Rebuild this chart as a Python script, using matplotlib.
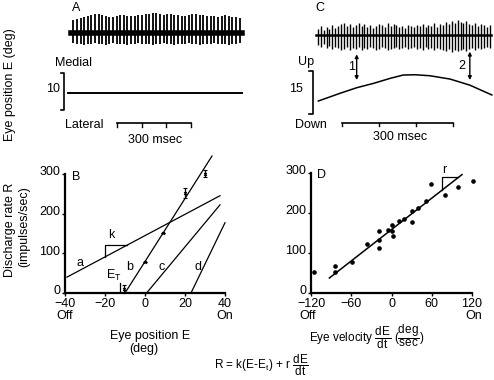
import matplotlib
matplotlib.use("Agg")
import matplotlib.pyplot as plt
import matplotlib.transforms as mtransforms

plt.rcParams["font.family"] = ["Liberation Sans", "DejaVu Sans"]
plt.rcParams["mathtext.fontset"] = "custom"
plt.rcParams["mathtext.rm"] = "Liberation Sans"
plt.rcParams["mathtext.it"] = "Liberation Sans"
plt.rcParams["axes.unicode_minus"] = True

FS = 9

# ---------------- data ----------------
# A: spike train at a fixed lateral position (times in ms, amplitudes in trace units)
a_spike_t = [20, 35, 50, 64, 79, 94, 109, 124, 138, 153, 168, 183, 198, 212, 227, 242,
             257, 272, 286, 301, 316, 331, 346, 360, 375, 390, 405, 420, 434, 449, 464,
             479, 494, 508, 523, 538, 553, 568, 582, 597, 612, 627, 642, 656, 671, 686, 701]
a_spike_up = [13, 14, 15, 16, 17, 18, 19, 19, 18, 17, 16, 16, 17, 18, 18, 17, 17, 17, 18,
              18, 19, 19, 20, 20, 19, 18, 19, 19, 18, 18, 17, 17, 18, 19, 19, 18, 18, 17,
              17, 17, 16, 17, 18, 17, 16, 16, 15]
a_spike_down = [10, 11, 11, 12, 11, 11, 10, 11, 11, 12, 11, 10, 11, 11, 11, 12, 11, 11, 10,
                11, 11, 11, 12, 11, 11, 10, 11, 11, 12, 11, 11, 11, 10, 11, 11, 12, 11, 11,
                11, 10, 11, 11, 11, 12, 11, 11, 10]
a_eye_t = [0, 709]
a_eye_deg = [0, 0]

# C: spike train during a slow up-down eye movement
c_spike_t = [-2, 6, 14, 22, 29, 37, 45, 53, 61, 69, 77, 84, 92, 100, 108, 116, 124, 131,
             139, 147, 155, 163, 171, 179, 186, 194, 202, 210, 218, 226, 233, 241, 249,
             257, 265, 273, 281, 288, 296, 304, 312, 320, 328, 335, 343, 351, 359, 367,
             375, 382, 390, 398, 406, 414, 422, 430, 437, 445, 453, 461]
c_spike_up = [6, 9, 5, 8, 6, 10, 7, 9, 11, 12, 9, 11, 8, 10, 12, 9, 11, 8, 10, 7, 9, 11,
              10, 8, 12, 9, 11, 10, 8, 9, 7, 10, 9, 8, 10, 9, 11, 8, 10, 9, 12, 8, 11, 10,
              13, 11, 14, 12, 15, 13, 12, 14, 11, 10, 12, 9, 11, 10, 8, 10]
c_spike_down = [10, 12, 9, 13, 11, 14, 12, 13, 15, 14, 12, 15, 13, 14, 12, 15, 13, 14, 12,
                13, 15, 14, 12, 13, 15, 14, 13, 12, 14, 13, 12, 14, 13, 12, 14, 13, 15, 12,
                14, 13, 15, 13, 14, 15, 16, 14, 17, 15, 16, 15, 14, 16, 14, 13, 15, 13, 14,
                13, 12, 13]
c_eye_t = [0, 58, 103, 148, 193, 228, 260, 300, 354, 407, 466]
c_eye_deg = [0, 2.66, 4.6, 6.1, 7.85, 9.0, 9.1, 8.75, 7.6, 5.5, 2.1]
c_arrow_t = [103, 407]

# B: rate vs position lines
line_names = ["a", "b", "c", "d"]
line_e = [[-39, 37.5], [-10, 33.5], [0.8, 37.5], [23, 40]]
line_r = [[40, 245], [0, 345], [0, 222], [0, 177]]
b_pts_e = [-10.5, 0, 9, 20, 30]
b_pts_r = [10, 77, 150, 251, 300]
b_pts_err = [10, 0, 0, 13, 9]
b_ticks_x = [-40, -20, 0, 20, 40]
b_ticks_y = [0, 100, 200, 300]

# D: rate vs velocity
d_vel = [-115, -84, -84, -59, -36, -19, -19, -19, -4.5, 0.5, 0.5, 1.5, 10.5, 19, 30, 30,
         40, 51, 59, 80, 99, 121]
d_rate = [52, 67, 52, 77, 122, 154, 133, 112, 158, 171, 156, 143, 179, 185, 204, 177,
          212, 229, 273, 246, 264, 281]
d_fit_v = [-92.6, 105]
d_fit_r = [37.5, 296]
d_ticks_x = [-120, -60, 0, 60, 120]
d_ticks_y = [0, 100, 200, 300]

# ---------------- figure ----------------
W, H = 494, 380
fig = plt.figure(figsize=(W / 100, H / 100), dpi=100)


def px_axes(x0, y0, x1, y1):
    return fig.add_axes([x0 / W, 1 - y1 / H, (x1 - x0) / W, (y1 - y0) / H])


def px_text(x, y, s, **kw):
    kw.setdefault("fontsize", FS)
    kw.setdefault("ha", "center")
    kw.setdefault("va", "center")
    fig.text(x / W, 1 - y / H, s, **kw)


def spikes(ax, t, up, down, lw):
    for ti, u, d in zip(t, up, down):
        ax.plot([ti, ti], [-d, u], color="black", lw=lw, solid_capstyle="butt")


def rate_axes(ax, xt, yt):
    for side in ["top", "right"]:
        ax.spines[side].set_visible(False)
    ax.spines["left"].set_bounds(yt[0], yt[-1])
    ax.spines["bottom"].set_bounds(xt[0], xt[-1])
    ax.spines["left"].set_linewidth(1.6)
    ax.spines["bottom"].set_linewidth(1.6)
    ax.set_xticks(xt)
    ax.set_yticks(yt)
    ax.tick_params(length=2, width=1, pad=1.5, labelsize=FS)
    ax.patch.set_visible(False)
    # labels on the y axis sit a little above their ticks
    off = mtransforms.ScaledTranslation(0, 3 / 100, fig.dpi_scale_trans)
    for lbl in ax.get_yticklabels():
        lbl.set_transform(lbl.get_transform() + off)


# ----- panel A -----
ax = px_axes(60, 12, 246, 48)
ax.set_xlim(-34, 727)
ax.set_ylim(-15, 21)
ax.axis("off")
ax.plot([a_spike_t[0] - 8, a_spike_t[-1] + 10], [0, 0], color="black", lw=4)
spikes(ax, a_spike_t, a_spike_up, a_spike_down, 1.3)

ax = px_axes(60, 55, 246, 150)
ax.set_xlim(-34, 727)
ax.set_ylim(-15.6, 10.27)
ax.axis("off")
ax.plot(a_eye_t, a_eye_deg, color="black", lw=1.4)
ax.plot([-29.9, -16.4, -16.4, -29.9], [5.29, 5.29, -4.71, -4.71], color="black", lw=1.2)
ax.plot([200, 500], [-8.17, -8.17], color="black", lw=1.2)
for tk in [200, 300, 400, 500]:
    ax.plot([tk, tk], [-8.17, -9.3], color="black", lw=1)

px_text(76, 8, "A")
px_text(55, 63, "Medial", ha="left")
px_text(60, 89, "10", ha="right")
px_text(65, 125, "Lateral", ha="left")
px_text(155, 140, "300 msec")
px_text(10, 85, "Eye position E (deg)", rotation=90)

# ----- panel C -----
ax = px_axes(312, 15, 494, 55)
ax.set_xlim(-17, 472)
ax.set_ylim(-20, 20)
ax.axis("off")
ax.plot([c_spike_t[0] - 3, c_spike_t[-1] + 4], [0, 0], color="black", lw=1.8)
spikes(ax, c_spike_t, c_spike_up, c_spike_down, 1.0)

ax = px_axes(300, 45, 494, 140)
ax.set_xlim(-49.2, 471.9)
ax.set_ylim(-13.5, 19.4)
ax.axis("off")
ax.plot(c_eye_t, c_eye_deg, color="black", lw=1.1)
ax.plot([-25, -15, -15, -25], [10.38, 10.38, -4.6, -4.6], color="black", lw=1.2)
ax.plot([63, 363], [-7.7, -7.7], color="black", lw=1.2)
for tk in [63, 163, 263, 363]:
    ax.plot([tk, tk], [-7.7, -8.6], color="black", lw=1)
for i, ta in enumerate(c_arrow_t):
    top = 16.2 if i == 0 else 17.1
    ax.annotate("", xy=(ta, 7.27), xytext=(ta, top),
                arrowprops=dict(arrowstyle="<|-|>", color="black", lw=1,
                                mutation_scale=5, shrinkA=0, shrinkB=0),
                annotation_clip=False)
ax.text(89.7, 11.9, "1", fontsize=FS, ha="center", va="center")
ax.text(385, 12.1, "2", fontsize=FS, ha="center", va="center")

px_text(320, 8, "C")
px_text(298, 62, "Up", ha="left")
px_text(303, 89, "15", ha="right")
px_text(295, 125, "Down", ha="left")
px_text(400, 137, "300 msec")

# ----- panel B -----
ax = px_axes(65, 156, 229, 293)
ax.set_xlim(-40, 42)
ax.set_ylim(0, 345)
rate_axes(ax, b_ticks_x, b_ticks_y)
for name, e, r in zip(line_names, line_e, line_r):
    ax.plot(e, r, color="black", lw=0.9, clip_on=False)
ax.errorbar(b_pts_e, b_pts_r, yerr=b_pts_err, fmt="x", ms=2, mew=0.8,
            color="black", ecolor="black", elinewidth=0.9, capsize=1.5, clip_on=False)
ax.plot([-20, -20, -9], [91, 122, 122], color="black", lw=0.9)
ax.plot([-12.5, -12.5], [0, 25], color="black", lw=0.9)
ax.text(-16.7, 145, "k", fontsize=FS, ha="center", va="center")
ax.text(-32.5, 75, "a", fontsize=FS, ha="center", va="center")
ax.text(-7.5, 65, "b", fontsize=FS, ha="center", va="center")
ax.text(8.3, 65, "c", fontsize=FS, ha="center", va="center")
ax.text(26.3, 65, "d", fontsize=FS, ha="center", va="center")
ax.text(-15.8, 44, r"E$_{\mathrm{T}}$", fontsize=FS, ha="center", va="center")
ax.text(-34.2, 293, "B", fontsize=FS, ha="center", va="center")

px_text(65, 316, "Off")
px_text(225, 316, "On")
px_text(150, 336, "Eye position E")
px_text(144, 349, "(deg)")
px_text(10, 230, "Discharge rate R", rotation=90)
px_text(24, 227, "(impulses/sec)", rotation=90)

# ----- panel D -----
ax = px_axes(311, 160, 478, 293)
ax.set_xlim(-120, 128.9)
ax.set_ylim(0, 332.5)
rate_axes(ax, d_ticks_x, d_ticks_y)
ax.plot(d_vel, d_rate, "o", ms=2.3, color="black", clip_on=False)
ax.plot(d_fit_v, d_fit_r, color="black", lw=1.1)
ax.plot([75, 75, 99], [257, 290, 290], color="black", lw=0.9)
ax.text(79, 308, "r", fontsize=FS, ha="center", va="center")
ax.text(-104, 296, "D", fontsize=FS, ha="center", va="center")

px_text(308, 316, "Off")
px_text(474, 316, "On")
px_text(367, 337, r"Eye velocity $\dfrac{\mathrm{dE}}{\mathrm{dt}}$ ($\dfrac{\mathrm{deg}}{\mathrm{sec}}$)",
        fontsize=8.5)

px_text(261, 365, r"R = k(E-E$_{\mathrm{t}}$) + r $\dfrac{\mathrm{dE}}{\mathrm{dt}}$", fontsize=8.5)

fig.savefig("out.png", dpi=100)
